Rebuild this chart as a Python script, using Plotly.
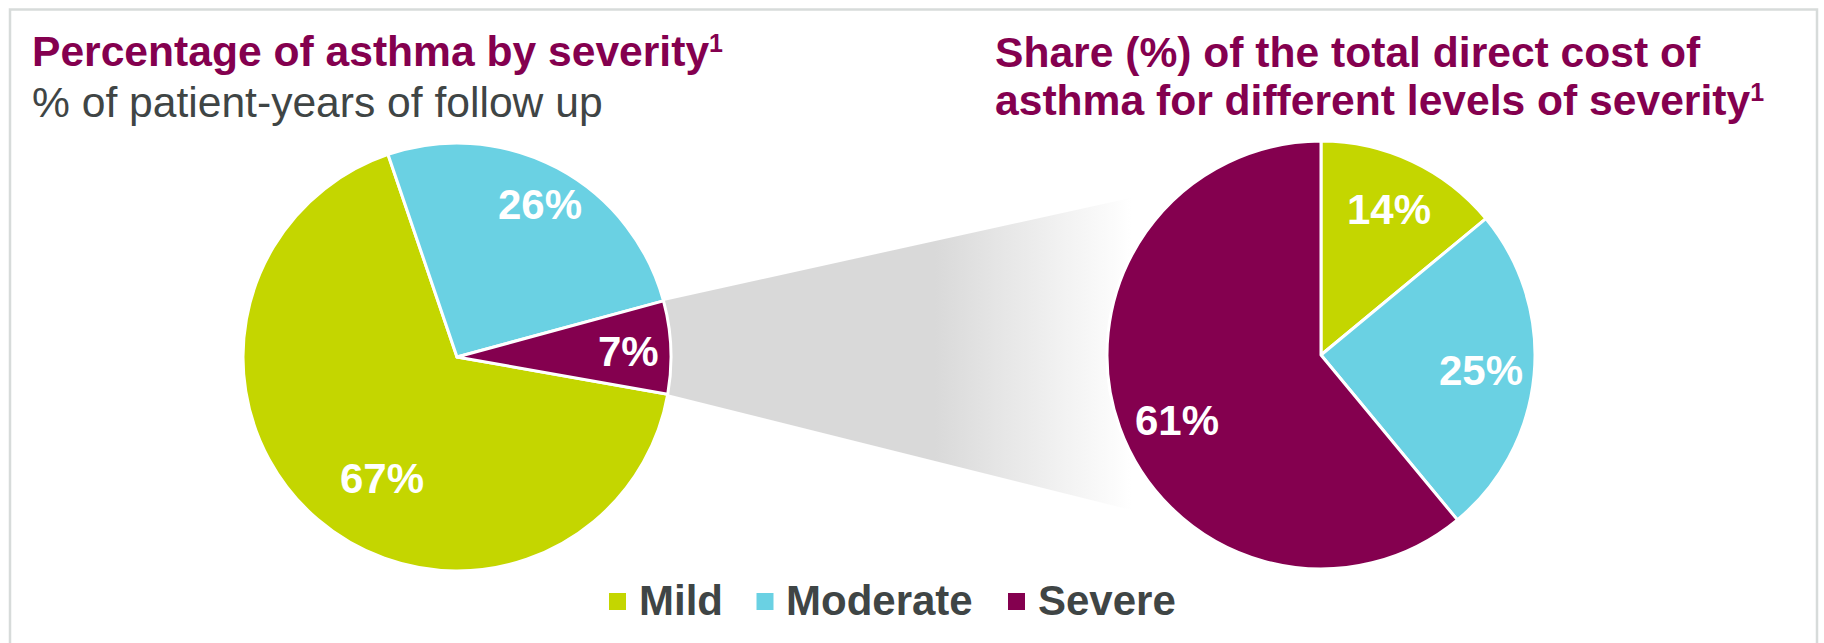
import math
import plotly.graph_objects as go

# ---- data ----
severity_levels = ["Mild", "Moderate", "Severe"]
patient_years_pct = [67, 26, 7]      # % of patient-years of follow up
direct_cost_pct = [14, 25, 61]       # share of total direct cost

level_colors = ["#C4D600", "#6AD1E3", "#84004F"]

FOOTNOTE = "<span style='font-size:33px'><sup><span style='font-size:25px'>1</span></sup></span>"
left_title = "Percentage of asthma by severity" + FOOTNOTE
left_subtitle = "% of patient-years of follow up"
right_title_lines = [
    "Share (%) of the total direct cost of",
    "asthma for different levels of severity" + FOOTNOTE,
]

# ---- canvas & pie geometry (pixels, y measured from top) ----
W, H = 1824, 643
R = 214
LEFT_C = (457, 357)
RIGHT_C = (1321, 355)
LEFT_ROTATION = 100
RIGHT_ROTATION = 0

FONT = "Liberation Sans, Arial, sans-serif"
TITLE_COLOR = "#84004F"
TEXT_GRAY = "#3F4545"
HEADING_SIZE = 42.6


def pie_domain(c):
    return dict(x=[(c[0] - R) / W, (c[0] + R) / W],
                y=[(H - c[1] - R) / H, (H - c[1] + R) / H])


def slice_bearings(values, rotation):
    """Start/end bearings (deg, clockwise from 12 o'clock) for each slice."""
    total = float(sum(values))
    out, a = [], rotation
    for v in values:
        span = 360.0 * v / total
        out.append((a, a + span))
        a += span
    return out


def polar(c, frac, bearing):
    t = math.radians(bearing)
    return c[0] + frac * R * math.sin(t), c[1] - frac * R * math.cos(t)


fig = go.Figure()

# ---- connector band from the severe slice to the cost pie ----
left_arcs = slice_bearings(patient_years_pct, LEFT_ROTATION)
sev_start, sev_end = left_arcs[2]
p_top = polar(LEFT_C, 1.0, sev_start)
p_bot = polar(LEFT_C, 1.0, sev_end)
band_right = RIGHT_C[0] - 0.885 * R
band_top = RIGHT_C[1] - 0.735 * R
band_bot = RIGHT_C[1] + 0.725 * R
fig.add_trace(go.Scatter(
    x=[p_top[0], band_right, band_right, p_bot[0], p_top[0]],
    y=[p_top[1], band_top, band_bot, p_bot[1], p_top[1]],
    mode="lines", line=dict(width=0), fill="toself",
    fillgradient=dict(type="horizontal",
                      colorscale=[[0, "#D9D9D9"], [0.58, "#D9D9D9"],
                                  [0.8, "#EDEDED"], [1, "#FFFFFF"]],
                      start=p_top[0], stop=band_right),
    hoverinfo="skip", showlegend=False,
))

# ---- pies ----
for values, center, rot in [(patient_years_pct, LEFT_C, LEFT_ROTATION),
                            (direct_cost_pct, RIGHT_C, RIGHT_ROTATION)]:
    fig.add_trace(go.Pie(
        labels=severity_levels, values=values, sort=False,
        direction="clockwise", rotation=rot,
        marker=dict(colors=level_colors, line=dict(color="white", width=3)),
        textinfo="none", hoverinfo="label+percent",
        domain=pie_domain(center), showlegend=False,
    ))

# ---- slice value labels ----
annotations = []
label_place = {
    "left": [(0.666, -8.7), (0.81, 0.5), (0.80, 0.8)],
    "right": [(0.75, 0.0), (0.75, 0.0), (0.74, -4.5)],
}
for key, values, center, rot in [("left", patient_years_pct, LEFT_C, LEFT_ROTATION),
                                 ("right", direct_cost_pct, RIGHT_C, RIGHT_ROTATION)]:
    for (a0, a1), v, (frac, nudge) in zip(slice_bearings(values, rot), values, label_place[key]):
        x, y = polar(center, frac, (a0 + a1) / 2 + nudge)
        annotations.append(dict(
            x=x, y=y, xref="x", yref="y", text=f"{v}%", showarrow=False,
            xanchor="center", yanchor="middle",
            font=dict(family=FONT, size=42, color="white", weight="bold"),
        ))

# ---- headings ----
def heading(text, x, baseline, color, bold):
    return dict(x=x, y=baseline + 14, xref="x", yref="y", text=text, showarrow=False,
                xanchor="left", yanchor="bottom",
                font=dict(family=FONT, size=HEADING_SIZE, color=color,
                          weight="bold" if bold else "normal"))

annotations.append(heading(left_title, 30, 63, TITLE_COLOR, True))
annotations.append(heading(left_subtitle, 30, 114, TEXT_GRAY, False))
annotations.append(heading(right_title_lines[0], 993, 64, TITLE_COLOR, True))
annotations.append(heading(right_title_lines[1], 993, 112, TITLE_COLOR, True))

# ---- legend ----
legend_x = [617.5, 765, 1016.5]
legend_y = 601.5
fig.add_trace(go.Scatter(
    x=legend_x, y=[legend_y] * 3, mode="markers",
    marker=dict(symbol="square", size=17, color=level_colors, line=dict(width=0)),
    hoverinfo="skip", showlegend=False,
))
for lx, name in zip(legend_x, severity_levels):
    annotations.append(dict(
        x=lx + 19, y=616 + 10, xref="x", yref="y", text=name, showarrow=False,
        xanchor="left", yanchor="bottom",
        font=dict(family=FONT, size=42, color=TEXT_GRAY, weight="bold"),
    ))

fig.update_layout(
    width=W, height=H,
    margin=dict(l=0, r=0, t=0, b=0),
    paper_bgcolor="white", plot_bgcolor="white",
    xaxis=dict(range=[0, W], visible=False, fixedrange=True),
    yaxis=dict(range=[H, 0], visible=False, fixedrange=True),
    annotations=annotations,
    shapes=[dict(type="rect", xref="x", yref="y", x0=10, y0=9.5, x1=1817, y1=700,
                 line=dict(color="#D7DBDA", width=2.5), layer="below")],
    showlegend=False,
)

fig.write_html("out.html")
